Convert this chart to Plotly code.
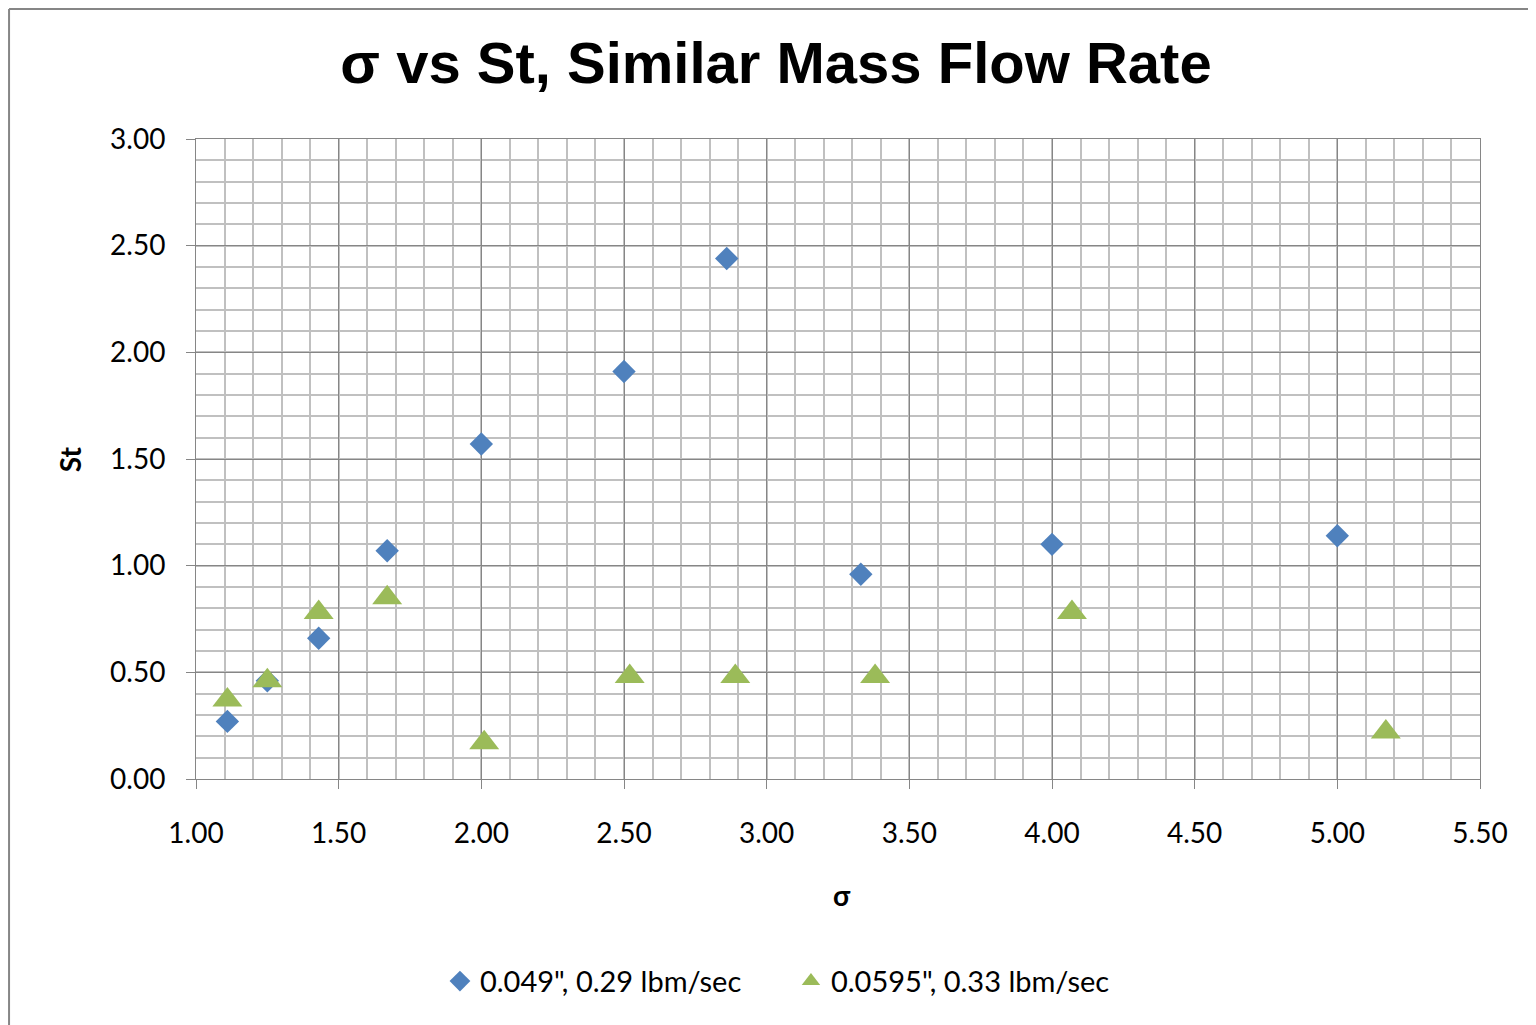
import plotly.graph_objects as go

# sigma vs Strouhal number, two nozzle configurations
sigma_049 = [1.11, 1.25, 1.43, 1.67, 2.00, 2.50, 2.86, 3.33, 4.00, 5.00]
st_049 = [0.27, 0.46, 0.66, 1.07, 1.57, 1.91, 2.44, 0.96, 1.10, 1.14]

sigma_0595 = [1.11, 1.25, 1.43, 1.67, 2.01, 2.52, 2.89, 3.38, 4.07, 5.17]
st_0595 = [0.37, 0.46, 0.78, 0.85, 0.17, 0.48, 0.48, 0.48, 0.78, 0.22]

x_ticks = [1.0, 1.5, 2.0, 2.5, 3.0, 3.5, 4.0, 4.5, 5.0, 5.5]
y_ticks = [0.0, 0.5, 1.0, 1.5, 2.0, 2.5, 3.0]

MAJOR = "#868686"
MINOR = "#C0C0C0"
TICK_FONT = dict(family="Lato", size=28, color="black")

fig = go.Figure()
fig.add_trace(
    go.Scatter(
        x=sigma_049,
        y=st_049,
        mode="markers",
        name="0.049\", 0.29 lbm/sec",
        marker=dict(symbol="diamond", size=18, color="#4F81BD"),
    )
)
fig.add_trace(
    go.Scatter(
        x=sigma_0595,
        y=st_0595,
        mode="markers",
        name="0.0595\", 0.33 lbm/sec",
        marker=dict(symbol="triangle-up", size=26, color="#9BBB59"),
    )
)

axis_common = dict(
    showline=True,
    linecolor=MAJOR,
    linewidth=1,
    mirror=True,
    showgrid=True,
    gridcolor=MAJOR,
    gridwidth=1,
    ticks="outside",
    ticklen=9,
    tickcolor=MAJOR,
    tickformat=".2f",
    tickfont=TICK_FONT,
    zeroline=False,
    minor=dict(dtick=0.1, showgrid=True, gridcolor=MINOR, gridwidth=1.5, ticks=""),
)

fig.update_xaxes(range=[1.0, 5.5], tickvals=x_ticks, ticklabelstandoff=20, **axis_common)
fig.update_yaxes(range=[0.0, 3.0], tickvals=y_ticks, ticklabelstandoff=15, **axis_common)

fig.update_layout(
    width=1536,
    height=1025,
    margin=dict(l=188, r=64, t=131, b=254),
    paper_bgcolor="white",
    plot_bgcolor="white",
    title=dict(
        text="<b>σ vs St, Similar Mass Flow Rate</b>",
        x=0.5,
        xanchor="center",
        y=0.947,
        yanchor="middle",
        font=dict(family="Liberation Sans", size=58, color="black"),
    ),
    legend=dict(
        orientation="h",
        x=0.19,
        xanchor="left",
        y=-0.316,
        yanchor="middle",
        font=dict(family="Lato", size=29, color="black"),
        itemwidth=30,
        entrywidth=306,
        tracegroupgap=0,
    ),
    annotations=[
        dict(text="<b>σ</b>", xref="paper", yref="paper", x=0.503, y=-0.2106,
             showarrow=False, font=dict(family="Lato", size=28, color="black")),
        dict(text="<b>St</b>", xref="paper", yref="paper", x=-0.1128, y=0.5,
             textangle=-90, showarrow=False,
             font=dict(family="Lato", size=28, color="black")),
    ],
    shapes=[
        dict(type="line", xref="paper", yref="paper", x0=-0.1456, x1=-0.1456,
             y0=-0.4, y1=1.2031, line=dict(color=MAJOR, width=2)),
        dict(type="line", xref="paper", yref="paper", x0=-0.1456, x1=1.05,
             y0=1.2031, y1=1.2031, line=dict(color=MAJOR, width=2)),
    ],
)

fig.write_html("out.html")
